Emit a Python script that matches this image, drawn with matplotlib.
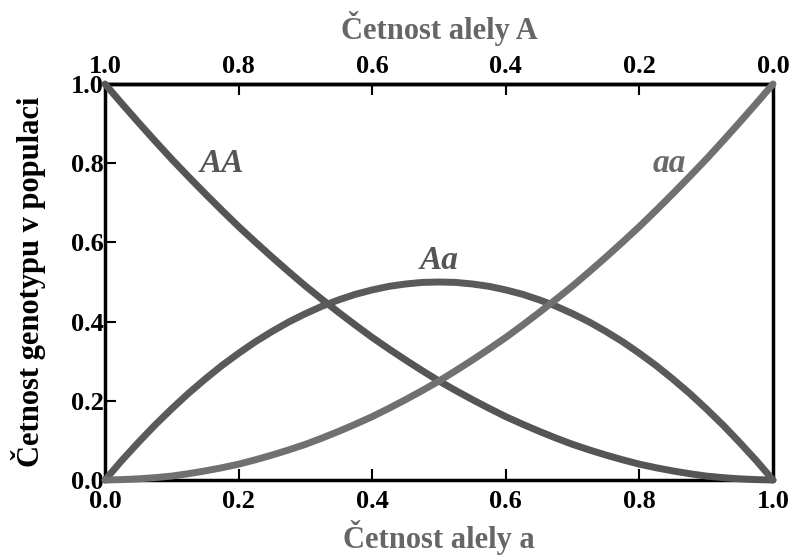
import numpy as np
import matplotlib
matplotlib.use('Agg')
import matplotlib.pyplot as plt

plt.rcParams['font.family'] = ['Liberation Serif', 'DejaVu Serif']
plt.rcParams['font.weight'] = 'bold'
plt.rcParams['axes.labelweight'] = 'bold'

# frequency of allele a (bottom axis)
q = [0.0, 0.025, 0.05, 0.075, 0.1, 0.125, 0.15, 0.175, 0.2, 0.225, 0.25,
     0.275, 0.3, 0.325, 0.35, 0.375, 0.4, 0.425, 0.45, 0.475, 0.5,
     0.525, 0.55, 0.575, 0.6, 0.625, 0.65, 0.675, 0.7, 0.725, 0.75,
     0.775, 0.8, 0.825, 0.85, 0.875, 0.9, 0.925, 0.95, 0.975, 1.0]
# genotype frequencies
AA = [1.0, 0.951, 0.903, 0.856, 0.81, 0.766, 0.723, 0.681, 0.64, 0.601, 0.563,
      0.526, 0.49, 0.456, 0.423, 0.391, 0.36, 0.331, 0.303, 0.276, 0.25,
      0.226, 0.203, 0.181, 0.16, 0.141, 0.123, 0.106, 0.09, 0.076, 0.063,
      0.051, 0.04, 0.031, 0.023, 0.016, 0.01, 0.006, 0.003, 0.001, 0.0]
Aa = [0.0, 0.049, 0.095, 0.139, 0.18, 0.219, 0.255, 0.289, 0.32, 0.349, 0.375,
      0.399, 0.42, 0.439, 0.455, 0.469, 0.48, 0.489, 0.495, 0.499, 0.5,
      0.499, 0.495, 0.489, 0.48, 0.469, 0.455, 0.439, 0.42, 0.399, 0.375,
      0.349, 0.32, 0.289, 0.255, 0.219, 0.18, 0.139, 0.095, 0.049, 0.0]
aa = [0.0, 0.001, 0.003, 0.006, 0.01, 0.016, 0.023, 0.031, 0.04, 0.051, 0.063,
      0.076, 0.09, 0.106, 0.123, 0.141, 0.16, 0.181, 0.203, 0.226, 0.25,
      0.276, 0.303, 0.331, 0.36, 0.391, 0.423, 0.456, 0.49, 0.526, 0.563,
      0.601, 0.64, 0.681, 0.723, 0.766, 0.81, 0.856, 0.903, 0.951, 1.0]

ticks = [0.0, 0.2, 0.4, 0.6, 0.8, 1.0]
top_labels = ['1.0', '0.8', '0.6', '0.4', '0.2', '0.0']

fig = plt.figure(figsize=(7.93, 5.57), dpi=100)
ax = fig.add_axes([0.1324, 0.1382, 0.8424, 0.711])

ax.plot(q, AA, color='#555555', lw=5, solid_capstyle='round', clip_on=False, zorder=5)
ax.plot(q, Aa, color='#5a5a5a', lw=5, solid_capstyle='round', clip_on=False, zorder=5)
ax.plot(q, aa, color='#707070', lw=5, solid_capstyle='round', clip_on=False, zorder=5)

# curve names
ax.text(0.175, 0.80, 'AA', fontsize=24, style='italic', weight='bold', color='#555555', ha='center', va='center')
ax.text(0.50, 0.555, 'Aa', fontsize=24, style='italic', weight='bold', color='#555555', ha='center', va='center')
ax.text(0.845, 0.80, 'aa', fontsize=24, style='italic', weight='bold', color='#6a6a6a', ha='center', va='center')

ax.set_xlim(0, 1)
ax.set_ylim(0, 1)
for s in ax.spines.values():
    s.set_linewidth(2.5)

ax.set_xticks(ticks)
ax.set_yticks(ticks)
ax.set_xticklabels(['%.1f' % t for t in ticks])
ax.set_yticklabels(['%.1f' % t for t in ticks])
ax.tick_params(direction='in', length=8, width=1.5, labelsize=19)
ax.tick_params(axis='x', pad=7)
ax.tick_params(axis='y', pad=1)

top = ax.secondary_xaxis('top')
top.set_xticks(ticks)
top.set_xticklabels(top_labels)
top.tick_params(direction='in', length=8, width=1.5, labelsize=19, pad=4)
top.spines['top'].set_linewidth(2.5)
top.set_xlabel('Četnost alely A', fontsize=22, color='#666666', labelpad=12)

ax.set_xlabel('Četnost alely a', fontsize=22, color='#666666', labelpad=5)
ax.set_ylabel('Četnost genotypu v populaci', fontsize=22, color='black', labelpad=18)

fig.savefig('out.png', dpi=100)
